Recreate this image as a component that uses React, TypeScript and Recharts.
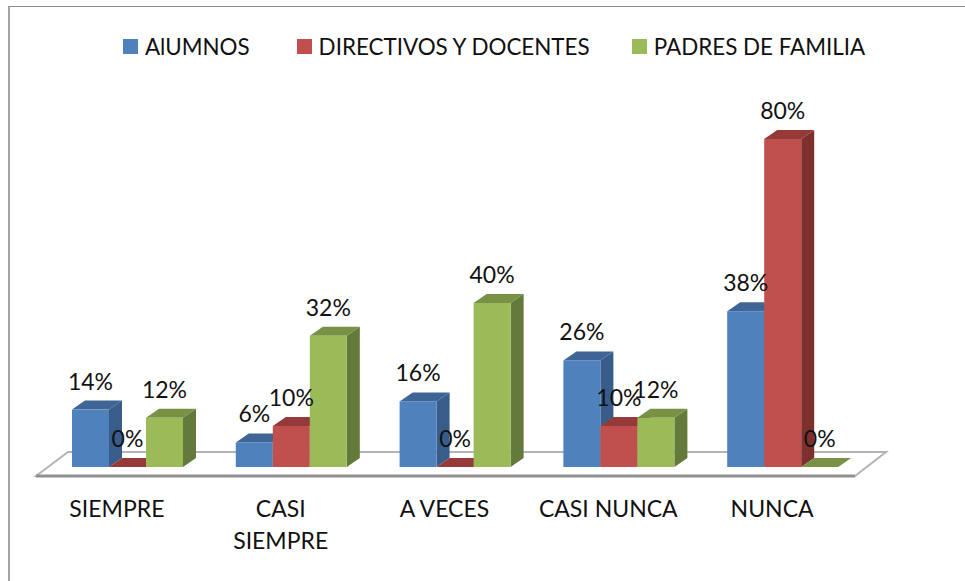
import { BarChart, Bar, XAxis, YAxis, Legend, LabelList } from 'recharts';

const categories = ['SIEMPRE', 'CASI\nSIEMPRE', 'A VECES', 'CASI NUNCA', 'NUNCA'];
const alumnos = [14, 6, 16, 26, 38];
const directivos = [0, 10, 0, 10, 80];
const padres = [12, 32, 40, 12, 0];

const data = categories.map((name, i) => ({
  name,
  alumnos: alumnos[i],
  directivos: directivos[i],
  padres: padres[i],
}));

const FONT = 'Lato, sans-serif';
const DEPTH_X = 13;
const DEPTH_Y = 9;
const LEGEND_GAPS = [47, 42, 0];

// front face + top + right side, recharts only gives us the front rectangle
const Box3D = ({ x, y, width, height, fill, top, side }: any) => {
  const r = x + width;
  const b = y + height;
  return (
    <g>
      <polygon
        points={`${r},${y} ${r + DEPTH_X},${y - DEPTH_Y} ${r + DEPTH_X},${b - DEPTH_Y} ${r},${b}`}
        fill={side}
      />
      <polygon
        points={`${x},${y} ${x + DEPTH_X},${y - DEPTH_Y} ${r + DEPTH_X},${y - DEPTH_Y} ${r},${y}`}
        fill={top}
      />
      <rect x={x} y={y} width={width} height={height} fill={fill} />
    </g>
  );
};

const CategoryTick = ({ x, y, payload }: any) => {
  const lines = String(payload.value).split('\n');
  return (
    <text x={x - 10} y={y + 42} textAnchor="middle" fontFamily={FONT} fontSize={23} fill="#111">
      {lines.map((line, i) => (
        <tspan key={line} x={x - 10} dy={i === 0 ? 0 : 32}>
          {line}
        </tspan>
      ))}
    </text>
  );
};

const LegendRow = ({ payload }: any) => (
  <div style={{ display: 'flex', alignItems: 'center', fontFamily: FONT, fontSize: 22.4, color: '#111' }}>
    {payload.map((item: any, i: number) => (
      <div key={item.value} style={{ display: 'flex', alignItems: 'center', marginRight: LEGEND_GAPS[i] }}>
        <span style={{ width: 15, height: 15, background: item.color, marginRight: 7 }} />
        <span style={{ whiteSpace: 'nowrap' }}>{item.value}</span>
      </div>
    ))}
  </div>
);

const barLabel = (key: string) => (
  <LabelList
    dataKey={key}
    position="top"
    offset={20}
    formatter={(v: any) => `${v}%`}
    style={{ fontFamily: FONT, fontSize: 23, fill: '#111' }}
  />
);

export default function App() {
  return (
    <div style={{ position: 'absolute', left: 0, top: 0, width: 965, height: 581, overflow: 'hidden', background: '#fff' }}>
      <div
        style={{
          position: 'absolute',
          left: 8,
          top: 6,
          right: -4,
          bottom: -4,
          borderLeft: '2px solid #a3a3a3',
          borderTop: '1px solid #8a8a8a',
        }}
      />
      <BarChart
        width={965}
        height={581}
        data={data}
        margin={{ top: 98, right: 101, bottom: 0, left: 45 }}
        barCategoryGap={27}
        barGap={0}
        style={{ position: 'absolute', left: 0, top: 0 }}
      >
        {/* floor of the 3d plot */}
        <polygon points="36,476 68,452 886,452 855,476" fill="#fff" stroke="#b4b4b4" strokeWidth={2} />
        <line x1={36} y1={476} x2={855} y2={476} stroke="#8f8f8f" strokeWidth={3} />
        <XAxis dataKey="name" axisLine={false} tickLine={false} interval={0} height={114} tick={<CategoryTick />} />
        <YAxis hide domain={[0, 90]} />
        <Legend
          verticalAlign="middle"
          align="center"
          content={<LegendRow />}
          wrapperStyle={{ top: 33, left: 123, width: 800 }}
        />
        <Bar
          dataKey="alumnos"
          name="AlUMNOS"
          fill="#4f81bd"
          isAnimationActive={false}
          shape={(p: any) => <Box3D {...p} top="#3e6595" side="#385d8a" />}
        >
          {barLabel('alumnos')}
        </Bar>
        <Bar
          dataKey="directivos"
          name="DIRECTIVOS Y DOCENTES"
          fill="#c0504d"
          isAnimationActive={false}
          shape={(p: any) => <Box3D {...p} top="#953a38" side="#7e302e" />}
        >
          {barLabel('directivos')}
        </Bar>
        <Bar
          dataKey="padres"
          name="PADRES DE FAMILIA"
          fill="#9bbb59"
          isAnimationActive={false}
          shape={(p: any) => <Box3D {...p} top="#789144" side="#647a3a" />}
        >
          {barLabel('padres')}
        </Bar>
      </BarChart>
    </div>
  );
}
